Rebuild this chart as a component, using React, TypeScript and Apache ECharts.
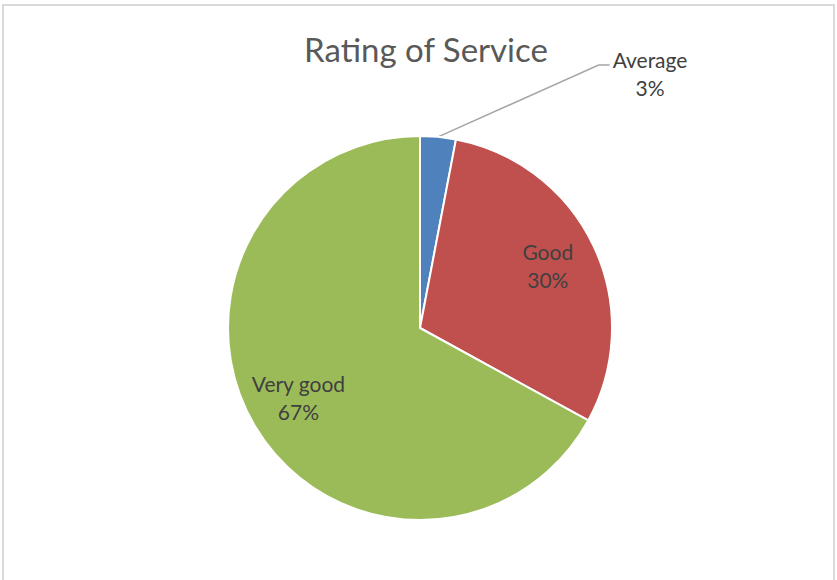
import React, { useEffect, useRef } from "react";
import * as echarts from "echarts";

// Survey result: how customers rated the service
const chartTitle = "Rating of Service";
const categories = ["Average", "Good", "Very good"];
const shares = [3, 30, 67];
const sliceColors = ["#4F81BD", "#C0504D", "#9BBB59"];
// slices whose label sits outside the pie with a leader line
const calloutCategories = ["Average"];

export default function App() {
  const ref = useRef<HTMLDivElement>(null);

  useEffect(() => {
    if (!ref.current) return;
    const chart = echarts.init(ref.current, null, { renderer: "svg" });

    const center = [420, 328];
    const radius = 192;
    const labelFont = {
      fontFamily: "Lato",
      fontSize: 21,
      lineHeight: 28,
      color: "#404040",
    };

    const sliceData = categories.map((name, i) => ({
      name,
      value: shares[i],
      itemStyle: { color: sliceColors[i] },
      label: { show: calloutCategories.includes(name) },
      labelLine: { show: calloutCategories.includes(name) },
    }));

    const innerLabelData = categories.map((name, i) => ({
      name,
      value: shares[i],
      label: { show: !calloutCategories.includes(name) },
    }));

    chart.setOption({
      animation: false,
      backgroundColor: "#ffffff",
      title: {
        text: chartTitle,
        left: 421,
        textAlign: "center",
        top: 27,
        textStyle: {
          fontFamily: "Lato",
          fontSize: 33,
          fontWeight: "normal",
          color: "#595959",
        },
      },
      graphic: [
        {
          type: "rect",
          shape: { x: 3, y: 5, width: 831, height: 620 },
          style: { fill: "none", stroke: "#d9d9d9", lineWidth: 2 },
          silent: true,
        },
      ],
      series: [
        {
          type: "pie",
          center,
          radius: [0, radius],
          startAngle: 90,
          clockwise: true,
          percentPrecision: 0,
          silent: true,
          itemStyle: { borderColor: "#ffffff", borderWidth: 2 },
          label: {
            position: "outside",
            formatter: "{b}\n{d}%",
            align: "center",
            ...labelFont,
          },
          labelLine: {
            lineStyle: { color: "#a6a6a6", width: 1.5 },
          },
          labelLayout: (params: any) => {
            if (!calloutCategories.includes(categories[params.dataIndex])) {
              return {};
            }
            const lx = 650;
            const ly = 73;
            const w = params.labelRect ? params.labelRect.width : 76;
            const left = lx - w / 2;
            const start =
              params.labelLinePoints && params.labelLinePoints[0]
                ? params.labelLinePoints[0]
                : [437, 137];
            return {
              x: lx,
              y: ly,
              align: "center",
              verticalAlign: "middle",
              labelLinePoints: [
                start,
                [left - 14, ly - 8],
                [left - 3, ly - 8],
              ],
            };
          },
          data: sliceData,
        },
        {
          // transparent twin pie that places the in-slice labels further out
          type: "pie",
          center: [center[0], center[1] - 2],
          radius: [0, radius * 1.44],
          startAngle: 90,
          clockwise: true,
          percentPrecision: 0,
          silent: true,
          itemStyle: { color: "rgba(0,0,0,0)" },
          emphasis: { disabled: true },
          label: {
            position: "inside",
            formatter: "{b}\n{d}%",
            align: "center",
            ...labelFont,
          },
          labelLine: { show: false },
          data: innerLabelData,
        },
      ],
    });

    return () => chart.dispose();
  }, []);

  return (
    <div
      ref={ref}
      style={{ position: "fixed", left: 0, top: 0, width: 837, height: 580 }}
    />
  );
}
